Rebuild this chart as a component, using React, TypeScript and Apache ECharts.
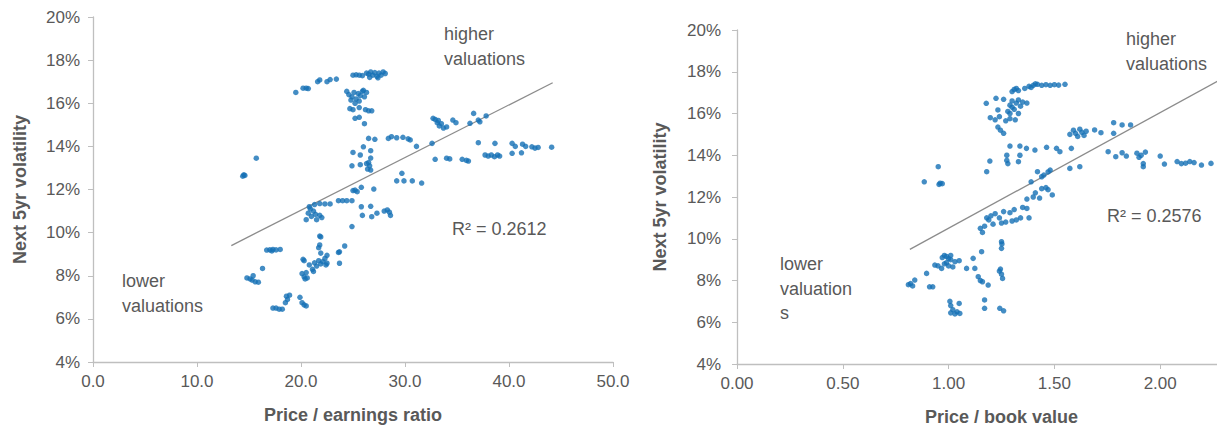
import React, { useEffect, useRef } from "react";
import * as echarts from "echarts";

// Price / earnings ratio vs next 5yr volatility (%)
const PE_POINTS: [number, number][] = [
  [19.5, 16.5], [20.2, 16.7], [20.5, 16.7], [20.7, 16.68], [21.6, 17.0], [21.8, 17.08], [22.5, 17.0], [22.8, 17.1], [23.4, 17.12],
  [25.0, 17.3], [25.3, 17.32], [25.6, 17.3], [25.9, 17.28],
  [26.3, 17.4], [26.5, 17.35], [26.7, 17.45], [26.9, 17.3], [27.1, 17.42], [27.3, 17.25], [27.5, 17.4], [27.7, 17.3], [27.9, 17.45], [28.1, 17.38], [26.6, 17.2], [27.4, 17.18],
  [24.4, 16.55], [24.6, 16.4], [24.9, 16.3], [25.1, 16.5], [25.3, 16.2], [25.5, 16.45], [25.7, 16.35], [25.9, 16.55], [26.1, 16.3], [26.3, 16.5], [25.6, 16.1], [25.2, 16.0], [26.0, 16.6], [24.8, 16.15],
  [24.7, 15.75], [25.0, 15.7], [25.6, 15.8], [26.2, 15.7], [26.5, 15.65], [26.8, 15.65],
  [25.2, 15.3], [25.6, 15.35], [26.1, 15.05],
  [26.5, 14.37], [27.1, 14.33], [28.4, 14.37], [28.7, 14.45], [29.2, 14.4], [29.8, 14.42], [30.3, 14.35], [30.5, 14.3], [31.1, 14.0], [32.6, 14.14],
  [26.0, 13.98], [25.0, 13.72], [25.7, 13.6], [26.7, 13.8], [26.7, 13.46], [26.5, 13.25], [26.6, 13.1], [26.7, 12.9], [26.4, 12.95], [24.9, 13.1], [25.7, 13.15], [26.3, 13.2],
  [25.0, 11.95], [25.2, 11.97], [25.4, 11.9], [25.8, 12.1], [27.0, 12.02],
  [14.4, 12.62], [14.5, 12.68], [14.6, 12.65], [15.7, 13.45],
  [20.5, 10.6], [20.7, 10.9], [20.9, 11.1], [21.0, 10.75], [21.2, 11.0], [21.4, 10.85], [21.5, 10.6], [21.8, 10.8], [22.0, 10.7], [20.8, 11.2], [21.3, 11.3],
  [21.8, 11.35], [22.3, 11.33], [22.8, 11.33], [23.6, 11.48], [24.0, 11.48], [24.4, 11.48], [24.9, 11.48],
  [25.8, 11.2], [26.7, 11.22], [25.9, 10.8], [26.8, 10.74], [27.3, 10.9], [28.0, 11.0], [28.3, 11.05], [28.5, 10.95], [28.6, 10.8],
  [24.9, 10.28],
  [21.8, 9.84], [21.9, 9.8], [21.8, 9.43], [21.7, 9.3], [21.9, 9.05], [22.5, 8.95],
  [16.7, 9.19], [17.0, 9.2], [17.3, 9.22], [17.6, 9.2], [18.0, 9.22], [17.2, 9.15],
  [23.7, 9.11], [23.6, 9.08], [24.2, 9.38], [23.7, 8.58],
  [14.8, 7.9], [15.1, 7.85], [15.3, 7.8], [15.6, 7.72], [15.9, 7.7], [15.4, 8.0], [16.3, 8.34],
  [20.2, 8.76], [20.3, 8.7], [20.1, 8.1], [20.3, 7.95], [20.4, 7.85], [20.6, 7.9], [20.5, 8.15],
  [20.8, 8.5], [21.1, 8.3], [21.3, 8.6], [21.5, 8.45], [21.7, 8.7], [21.9, 8.55], [22.1, 8.65], [22.3, 8.8], [22.4, 8.5], [21.2, 8.2], [22.5, 8.58],
  [17.3, 6.5], [17.6, 6.5], [17.9, 6.45], [18.2, 6.45], [18.5, 6.75], [18.7, 6.9], [18.9, 7.1], [18.6, 7.05],
  [19.9, 7.0], [20.1, 6.75], [20.3, 6.65], [20.5, 6.6],
  [32.7, 15.3], [32.9, 15.25], [33.1, 15.1], [33.3, 14.95], [33.5, 15.05], [33.7, 14.85], [34.0, 14.9], [33.2, 15.2],
  [34.6, 15.22], [34.9, 15.1], [36.25, 15.07], [36.6, 15.53], [37.05, 15.22], [37.2, 15.14], [37.8, 15.41],
  [32.9, 13.4], [34.0, 13.45], [34.3, 13.42], [35.5, 13.4], [35.9, 13.35], [36.1, 13.32],
  [37.05, 14.17], [38.65, 14.14], [40.3, 14.14], [40.6, 14.0], [41.3, 14.1], [42.2, 13.98], [42.5, 13.92], [42.8, 13.95], [44.1, 13.96], [41.6, 14.0],
  [37.7, 13.6], [38.0, 13.55], [38.3, 13.6], [38.6, 13.52], [38.9, 13.6], [39.1, 13.55], [40.3, 13.68], [41.2, 13.7],
  [29.2, 12.4], [29.9, 12.4], [30.7, 12.4], [31.6, 12.3], [29.7, 12.75],
];

// Price / book value vs next 5yr volatility (%)
const PB_POINTS: [number, number][] = [
  [0.885, 12.73], [0.951, 13.45], [0.96, 12.66], [0.97, 12.64], [0.955, 12.6],
  [0.81, 7.8], [0.82, 7.85], [0.83, 7.74], [0.84, 8.02], [0.896, 8.34], [0.91, 7.7], [0.925, 7.7],
  [0.935, 8.74], [0.95, 8.7], [0.967, 8.58],
  [0.97, 9.1], [0.98, 9.2], [0.99, 9.15], [1.0, 9.05], [1.01, 9.2], [0.99, 8.85], [1.0, 8.7], [1.02, 8.65], [1.03, 8.9], [1.05, 8.95], [1.01, 9.0], [0.98, 8.8],
  [1.085, 8.58], [1.116, 9.06], [1.156, 9.38], [1.124, 8.58],
  [1.14, 8.18], [1.15, 8.0], [1.16, 7.94], [1.187, 7.78],
  [1.006, 7.0], [1.01, 6.8], [1.02, 6.6], [1.01, 6.45], [1.03, 6.4], [1.04, 6.5], [1.05, 6.9], [1.053, 6.42],
  [1.17, 7.07], [1.17, 6.67], [1.242, 6.67], [1.26, 6.55],
  [1.245, 8.55], [1.25, 8.3], [1.255, 8.1], [1.24, 8.45],
  [1.25, 9.86], [1.25, 9.54], [1.252, 9.75],
  [1.15, 10.5], [1.16, 10.3], [1.17, 10.6], [1.18, 11.0], [1.19, 10.9], [1.2, 11.1], [1.21, 10.7], [1.22, 11.2], [1.24, 11.0], [1.26, 11.3], [1.27, 10.8], [1.29, 11.25], [1.3, 10.85], [1.32, 10.9], [1.34, 11.0], [1.35, 11.5], [1.37, 11.45], [1.38, 11.0], [1.25, 10.75], [1.31, 11.4],
  [1.37, 11.9], [1.4, 12.0], [1.43, 11.95], [1.41, 12.2], [1.44, 12.4], [1.47, 12.35], [1.49, 12.1], [1.46, 12.45],
  [1.39, 12.73], [1.44, 12.97], [1.48, 13.29], [1.42, 13.21], [1.45, 13.05], [1.47, 13.2],
  [1.573, 13.37], [1.62, 13.45],
  [1.18, 13.21], [1.195, 13.72],
  [1.275, 14.0], [1.275, 13.75], [1.28, 13.6], [1.33, 13.69], [1.337, 14.0],
  [1.29, 14.44], [1.337, 14.44], [1.368, 14.33], [1.408, 14.25], [1.463, 14.38], [1.51, 14.33], [1.526, 14.17], [1.58, 14.33],
  [1.573, 15.0], [1.59, 15.2], [1.6, 15.05], [1.61, 14.9], [1.62, 15.25], [1.63, 15.1], [1.64, 14.95], [1.65, 15.15],
  [1.69, 15.21], [1.72, 15.08], [1.78, 15.56], [1.78, 15.05], [1.82, 15.45], [1.86, 15.45],
  [1.754, 14.17], [1.79, 13.93], [1.82, 14.12], [1.84, 13.96],
  [1.89, 14.1], [1.9, 13.9], [1.91, 14.0], [1.92, 13.6], [1.92, 13.45], [1.93, 14.15],
  [2.0, 13.96], [2.02, 13.58], [2.08, 13.7], [2.1, 13.6], [2.12, 13.62], [2.14, 13.7], [2.16, 13.65], [2.195, 13.53], [2.24, 13.61],
  [1.178, 16.49], [1.224, 16.73], [1.26, 16.68], [1.233, 16.17],
  [1.28, 16.1], [1.29, 16.4], [1.3, 16.6], [1.31, 16.2], [1.32, 16.5], [1.33, 16.0], [1.34, 16.35], [1.35, 16.55], [1.37, 16.5], [1.29, 16.0], [1.3, 16.3], [1.33, 16.65],
  [1.3, 17.05], [1.31, 17.15], [1.32, 17.2], [1.33, 17.1],
  [1.36, 17.2], [1.38, 17.3], [1.4, 17.35], [1.42, 17.4], [1.44, 17.35], [1.46, 17.38], [1.48, 17.35], [1.5, 17.38], [1.52, 17.36], [1.55, 17.4], [1.39, 17.25], [1.41, 17.42],
  [1.197, 15.8], [1.22, 15.7], [1.24, 15.85], [1.27, 15.65], [1.29, 15.75], [1.315, 15.7],
  [1.233, 15.35], [1.245, 15.2], [1.26, 15.05],
];

const PE_TREND: [number, number][] = [[13.3, 9.4], [44.2, 16.95]];
const PB_TREND: [number, number][] = [[0.817, 9.49], [2.4, 18.26]];

const PE_R2 = "R² = 0.2612";
const PB_R2 = "R² = 0.2576";
const X_TITLES = ["Price / earnings ratio", "Price / book value"];
const Y_TITLE = "Next 5yr volatility";

const FONT = "'Liberation Sans', Arial, sans-serif";
const TEXT = "#595959";
const AXIS = "#BFBFBF";
const DOT = "#1570B5";

export default function App() {
  const ref = useRef<HTMLDivElement>(null);
  useEffect(() => {
    if (!ref.current) return;
    const chart = echarts.init(ref.current, null, { renderer: "svg" });

    const axisCommon = {
      axisLine: { show: true, lineStyle: { color: AXIS, width: 1.3 } },
      axisTick: { show: true, length: 5, lineStyle: { color: AXIS } },
      splitLine: { show: false },
      nameTextStyle: { color: TEXT, fontFamily: FONT, fontSize: 18, fontWeight: "bold" as const },
    };
    const labelCommon = { color: TEXT, fontFamily: FONT, fontSize: 17 };

    const txt = (x: number, y: number, s: string) => ({
      type: "text",
      x,
      y,
      style: { text: s, fill: TEXT, font: `18px ${FONT}`, align: "left", verticalAlign: "middle" },
    });

    chart.setOption({
      animation: false,
      grid: [
        { left: 93, top: 17, width: 520, height: 345, outerBoundsMode: "none", containLabel: false },
        { left: 737, top: 30, width: 529, height: 334, outerBoundsMode: "none", containLabel: false },
      ],
      xAxis: [
        {
          ...axisCommon,
          gridIndex: 0,
          type: "value",
          min: 0,
          max: 50,
          interval: 10,
          name: X_TITLES[0],
          nameLocation: "middle",
          nameGap: 44,
          axisLabel: { ...labelCommon, margin: 11, formatter: (v: number) => v.toFixed(1) },
        },
        {
          ...axisCommon,
          gridIndex: 1,
          type: "value",
          min: 0,
          max: 2.5,
          interval: 0.5,
          name: X_TITLES[1],
          nameLocation: "middle",
          nameGap: 44,
          axisLabel: {
            ...labelCommon,
            margin: 11,
            showMaxLabel: false,
            formatter: (v: number) => v.toFixed(2),
          },
        },
      ],
      yAxis: [
        {
          ...axisCommon,
          gridIndex: 0,
          type: "value",
          min: 4,
          max: 20,
          interval: 2,
          name: Y_TITLE,
          nameLocation: "middle",
          nameGap: 64,
          axisLabel: { ...labelCommon, margin: 13, formatter: (v: number) => `${v}%` },
        },
        {
          ...axisCommon,
          gridIndex: 1,
          type: "value",
          min: 4,
          max: 20,
          interval: 2,
          name: Y_TITLE,
          nameLocation: "middle",
          nameGap: 68,
          axisLabel: { ...labelCommon, margin: 16, formatter: (v: number) => `${v}%` },
        },
      ],
      series: [
        {
          type: "line",
          xAxisIndex: 0,
          yAxisIndex: 0,
          data: PE_TREND,
          symbol: "none",
          lineStyle: { color: "#8C8C8C", width: 1.3 },
          z: 1,
        },
        {
          type: "scatter",
          xAxisIndex: 0,
          yAxisIndex: 0,
          data: PE_POINTS,
          symbolSize: 5.5,
          itemStyle: { color: DOT },
          z: 2,
        },
        {
          type: "line",
          xAxisIndex: 1,
          yAxisIndex: 1,
          data: PB_TREND,
          symbol: "none",
          lineStyle: { color: "#8C8C8C", width: 1.3 },
          z: 1,
        },
        {
          type: "scatter",
          xAxisIndex: 1,
          yAxisIndex: 1,
          data: PB_POINTS,
          symbolSize: 5.5,
          itemStyle: { color: DOT },
          z: 2,
        },
      ],
      graphic: [
        txt(444, 34, "higher"),
        txt(444, 59, "valuations"),
        txt(122, 281, "lower"),
        txt(122, 306, "valuations"),
        txt(452, 229, PE_R2),
        txt(1126, 39, "higher"),
        txt(1126, 64, "valuations"),
        txt(780, 264, "lower"),
        txt(780, 289, "valuation"),
        txt(780, 313, "s"),
        txt(1107, 216, PB_R2),
      ],
    });
    return () => chart.dispose();
  }, []);

  return (
    <div
      ref={ref}
      style={{ position: "absolute", left: 0, top: 0, width: 1217, height: 433, background: "#fff" }}
    />
  );
}
